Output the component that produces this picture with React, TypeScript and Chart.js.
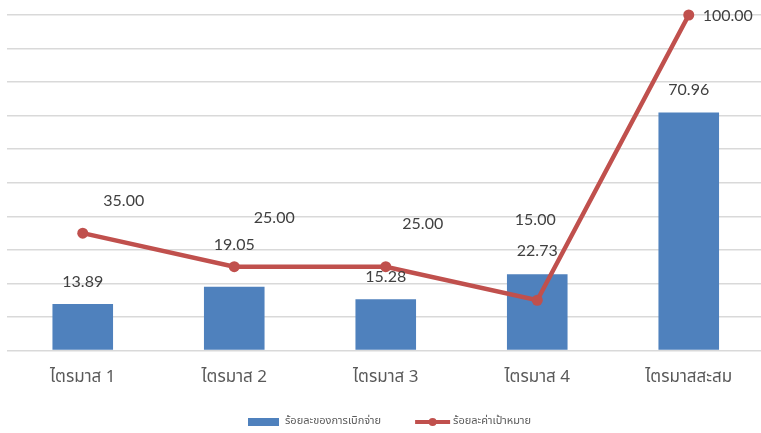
import React, { useEffect, useRef } from "react";
import { Chart, registerables } from "chart.js";

Chart.register(...registerables);

const categories = ["ไตรมาส 1", "ไตรมาส 2", "ไตรมาส 3", "ไตรมาส 4", "ไตรมาสสะสม"];
const disbursement = [13.89, 19.05, 15.28, 22.73, 70.96];
const target = [35.0, 25.0, 25.0, 15.0, 100.0];
const seriesNames = ["ร้อยละของการเบิกจ่าย", "ร้อยละค่าเป้าหมาย"];
const yMin = 0;
const yMax = 100;
const yStep = 10;

// label placement offsets (px) relative to each mark
const barLabelOffsets = [[0, -22], [0, -42], [0, -22], [0, -23], [0, -23]];
const lineLabelOffsets = [[41, -32], [40, -49], [37, -43], [-2, -80], [39, 1]];

const BAR_COLOR = "#4f81bd";
const LINE_COLOR = "#c0504d";
const TEXT_COLOR = "#404040";
const THAI_FONT = "'Noto Sans Thai', Tahoma, 'Noto Sans', 'DejaVu Sans', sans-serif";
const NUM_FONT = "Lato, 'Open Sans', sans-serif";

const labelPlugin = {
  id: "valueLabels",
  afterDatasetsDraw(chart: any) {
    const ctx = chart.ctx;
    ctx.save();
    ctx.font = `16px ${NUM_FONT}`;
    ctx.fillStyle = TEXT_COLOR;
    ctx.textAlign = "center";
    ctx.textBaseline = "middle";
    chart.data.datasets.forEach((ds: any, di: number) => {
      const meta = chart.getDatasetMeta(di);
      const offs = ds.type === "line" ? lineLabelOffsets : barLabelOffsets;
      meta.data.forEach((el: any, i: number) => {
        const v = ds.data[i] as number;
        const [dx, dy] = offs[i];
        ctx.fillText(v.toFixed(2), el.x + dx, el.y + dy);
      });
    });
    ctx.restore();
  },
};

const legendPlugin = {
  id: "customLegend",
  afterDraw(chart: any) {
    const ctx = chart.ctx;
    ctx.save();
    ctx.font = `11px ${THAI_FONT}`;
    ctx.textBaseline = "middle";
    ctx.textAlign = "left";
    const y = 422;
    const rectW = 31;
    const lineW = 35;
    const w0 = ctx.measureText(seriesNames[0]).width;
    const w1 = ctx.measureText(seriesNames[1]).width;
    const total = rectW + 6 + w0 + 34 + lineW + 3 + w1;
    let x = 389.5 - total / 2;
    ctx.fillStyle = BAR_COLOR;
    ctx.fillRect(x, y - 4, rectW, 8);
    x += rectW + 6;
    ctx.fillStyle = "#595959";
    ctx.fillText(seriesNames[0], x, y);
    x += w0 + 34;
    ctx.strokeStyle = LINE_COLOR;
    ctx.lineWidth = 4;
    ctx.beginPath();
    ctx.moveTo(x, y);
    ctx.lineTo(x + lineW, y);
    ctx.stroke();
    ctx.fillStyle = LINE_COLOR;
    ctx.beginPath();
    ctx.arc(x + lineW / 2, y, 4, 0, Math.PI * 2);
    ctx.fill();
    x += lineW + 3;
    ctx.fillStyle = "#595959";
    ctx.fillText(seriesNames[1], x, y);
    ctx.restore();
  },
};

export default function App() {
  const ref = useRef<HTMLCanvasElement | null>(null);

  useEffect(() => {
    if (!ref.current) return;
    const chart = new Chart(ref.current, {
      type: "bar",
      data: {
        labels: categories,
        datasets: [
          {
            type: "line",
            label: seriesNames[1],
            data: target,
            borderColor: LINE_COLOR,
            backgroundColor: LINE_COLOR,
            borderWidth: 4.5,
            pointRadius: 5.5,
            pointBackgroundColor: LINE_COLOR,
            pointBorderWidth: 0,
            tension: 0,
            clip: false,
            order: 0,
          } as any,
          {
            type: "bar",
            label: seriesNames[0],
            data: disbursement,
            backgroundColor: BAR_COLOR,
            barPercentage: 0.4,
            categoryPercentage: 1,
            order: 1,
          } as any,
        ],
      },
      options: {
        responsive: false,
        animation: false,
        devicePixelRatio: 1,
        layout: { padding: { left: 7, right: 2, top: 15, bottom: 26 } },
        plugins: {
          legend: { display: false },
          tooltip: { enabled: false },
        },
        scales: {
          x: {
            grid: { display: false, drawTicks: false },
            border: { display: false },
            ticks: {
              color: "#595959",
              font: { family: THAI_FONT, size: 17 },
              padding: 18,
              maxRotation: 0,
            },
          },
          y: {
            min: yMin,
            max: yMax,
            ticks: { display: false, stepSize: yStep },
            grid: { color: "#d9d9d9", lineWidth: 1.5, drawTicks: false },
            border: { display: false },
          },
        },
      },
      plugins: [labelPlugin, legendPlugin],
    });
    return () => chart.destroy();
  }, []);

  return (
    <div style={{ position: "fixed", left: 0, top: 0, width: 770, height: 433, overflow: "hidden", background: "#fff" }}>
      <canvas ref={ref} width={770} height={433} style={{ width: 770, height: 433, display: "block" }} />
    </div>
  );
}
